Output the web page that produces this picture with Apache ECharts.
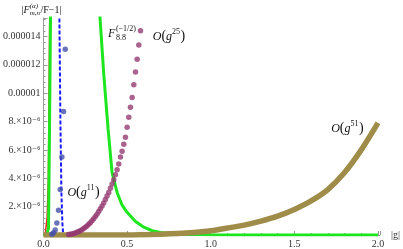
<!DOCTYPE html>
<html><head><meta charset="utf-8">
<script src="https://cdn.jsdelivr.net/npm/echarts@6/dist/echarts.min.js"></script>
<style>html,body{margin:0;padding:0;background:#fff}#c{width:403px;height:249px}</style>
</head><body><div id="c"></div>
<script>
// ---- data (y values in units of 1e-6) ----
const xTickLabels = ['0.0', '0.5', '1.0', '1.5', '2.0'];
const yTickLabels = ['', '2.×10⁻⁶', '4.×10⁻⁶', '6.×10⁻⁶', '8.×10⁻⁶', '0.00001', '0.000012', '0.000014'];

// F^(-1/2)_{8.8} (green)
const greenG = [0, 0.02, 0.026, 0.030, 0.036, 0.042, 0.05, 0.32, 0.338, 0.36, 0.386, 0.41, 0.44, 0.47, 0.50, 0.55, 0.60, 0.65, 0.70, 0.80, 0.90, 1.0, 1.2, 1.5, 2.0];
const greenV = [0, 0, 0.1, 0.5, 7.5, 15.3, 40, 40, 15.3, 11.4, 7.5, 4.4, 3.0, 2.1, 1.6, 0.95, 0.55, 0.3, 0.17, 0.07, 0.03, 0.01, 0, 0, 0];

// red curve (mostly hidden behind the green one)
const redG = [0.004, 0.012, 0.022, 0.029, 0.037, 0.045];
const redV = [0, 0.2, 1.3, 4, 15.3, 40];

// blue dashed curve
const blueDashG = [0.09, 0.095, 0.101, 0.107, 0.113, 0.118];
const blueDashV = [25, 15.3, 8.1, 3.0, 0.8, 0];

// O(g^11) blue dots
const blueDotG = [0.05, 0.06, 0.07, 0.08, 0.09, 0.10, 0.11, 0.12, 0.13];
const blueDotV = [0.05, 0.15, 0.35, 0.84, 1.75, 3.2, 5.5, 8.7, 13.1];

// O(g^25) purple dots
const purpleG = [0.15, 0.16, 0.17, 0.18, 0.19, 0.20, 0.21, 0.22, 0.23, 0.24, 0.25, 0.26, 0.27, 0.28, 0.29, 0.30, 0.31, 0.32, 0.33, 0.34, 0.35, 0.36, 0.37, 0.38, 0.39, 0.40, 0.41, 0.42, 0.43, 0.44, 0.45, 0.46, 0.47, 0.48, 0.49, 0.50, 0.51, 0.52, 0.53, 0.54, 0.55, 0.56, 0.57, 0.58];
const purpleV = [0.03, 0.05, 0.07, 0.1, 0.14, 0.19, 0.24, 0.3, 0.37, 0.45, 0.54, 0.64, 0.75, 0.87, 1.0, 1.15, 1.3, 1.47, 1.65, 1.85, 2.05, 2.25, 2.5, 2.75, 3.0, 3.3, 3.6, 3.9, 4.25, 4.6, 5.0, 5.5, 5.9, 6.4, 6.9, 7.6, 8.3, 9.0, 9.7, 10.6, 11.5, 12.4, 13.4, 14.4];

// O(g^51) olive curve
const oliveG = [0, 0.5, 0.6, 0.7, 0.8, 0.9, 1.0, 1.1, 1.2, 1.3, 1.4, 1.5, 1.6, 1.7, 1.8, 1.9, 2.0];
const oliveV = [0, 0, 0.02, 0.05, 0.1, 0.18, 0.3, 0.49, 0.7, 0.98, 1.33, 1.8, 2.4, 3.2, 4.4, 6.0, 7.9];

(function () {
const zip = (a, b) => a.map((v, i) => [v, b[i]]);
const SERIF = '"Liberation Serif", "DejaVu Serif", serif';

const chart = echarts.init(document.getElementById('c'), null, {renderer: 'canvas'});
chart.setOption({
  animation: false,
  backgroundColor: '#fff',
  grid: {left: 43, right: 21, top: 18, bottom: 13, containLabel: false},
  xAxis: {
    type: 'value', min: 0, max: 2.012, interval: 0.5,
    name: '|g|', nameLocation: 'end', nameGap: 11,
    nameTextStyle: {fontFamily: SERIF, fontSize: 10, color: '#333', verticalAlign: 'middle', padding: [0, 0, 0, 0]},
    axisLine: {onZero: false, lineStyle: {color: '#999', width: 1}},
    axisTick: {show: true, inside: true, length: 4, lineStyle: {color: '#999'}},
    minorTick: {show: true, splitNumber: 5, length: 2, lineStyle: {color: '#999'}},
    splitLine: {show: false},
    axisLabel: {fontFamily: SERIF, fontSize: 10, color: '#333', margin: 4,
      showMaxLabel: true,
      formatter: v => { const i = Math.round(v / 0.5); return Math.abs(v - i * 0.5) < 1e-9 ? (xTickLabels[i] || '') : ''; }}
  },
  yAxis: {
    type: 'value', min: 0, max: 15.3, interval: 2,
    axisLine: {show: true, onZero: false, lineStyle: {color: '#999', width: 1}},
    axisTick: {show: true, inside: true, length: 4, lineStyle: {color: '#999'}},
    minorTick: {show: true, splitNumber: 5, length: 2, lineStyle: {color: '#999'}},
    splitLine: {show: false},
    axisLabel: {fontFamily: SERIF, fontSize: 10, color: '#333', margin: 3,
      formatter: v => yTickLabels[Math.round(v / 2)] || ''}
  },
  series: [
    {type: 'line', data: zip(redG, redV), showSymbol: false, clip: true,
     lineStyle: {color: '#e8281e', width: 1.5}, z: 1},
    {type: 'line', data: zip(greenG, greenV), showSymbol: false, clip: true,
     lineStyle: {color: '#1ee61e', width: 3}, z: 2},
    {type: 'line', data: zip(blueDashG, blueDashV), showSymbol: false, clip: true,
     lineStyle: {color: '#1a1aff', width: 2, type: [4, 2]}, z: 3},
    {type: 'line', data: zip(oliveG, oliveV), showSymbol: false, clip: true, smooth: 0.3,
     lineStyle: {color: '#9e8c48', width: 5.5}, z: 4},
    {type: 'scatter', data: zip(purpleG, purpleV), symbol: 'circle', symbolSize: 5.5, clip: true,
     itemStyle: {color: '#953b72'}, z: 5},
    {type: 'scatter', data: zip(blueDotG, blueDotV), symbol: 'circle', symbolSize: 5.5, clip: true,
     itemStyle: {color: '#4450a8'}, z: 6}
  ]
});

// ---- math-style text labels ----
const ctx = document.createElement('canvas').getContext('2d');
function fontStr(size, italic) { return (italic ? 'italic ' : '') + size + 'px ' + SERIF; }
function measure(t, size, italic) { ctx.font = fontStr(size, italic); return ctx.measureText(t).width; }
function txt(x, y, t, font) {
  return {type: 'text', x: x, y: y, silent: true, z: 100,
    style: {text: t, font: font, fill: '#111', textAlign: 'left', textVerticalAlign: 'middle', align: 'left', verticalAlign: 'middle'}};
}
function mathLabel(x, y, parts, size, align) {
  const small = Math.round(size * 0.7);
  const widths = parts.map(p => p.t !== undefined ? measure(p.t, p.s || size, p.i) + (p.pad || 0) :
    Math.max(p.sup ? measure(p.sup, small, p.si) : 0, p.sub ? measure(p.sub, small, p.bi) : 0) + 0.5);
  const total = widths.reduce((a, b) => a + b, 0);
  let cx = align === 'center' ? x - total / 2 : x;
  const els = [];
  parts.forEach((p, k) => {
    if (p.t !== undefined) {
      els.push(txt(cx, y + (p.dy || 0), p.t, fontStr(p.s || size, p.i)));
    } else {
      if (p.sup) els.push(txt(cx, y - size * 0.4, p.sup, fontStr(small, p.si)));
      if (p.sub) els.push(txt(cx, y + size * 0.33, p.sub, fontStr(small, p.bi)));
    }
    cx += widths[k];
  });
  return els;
}
const P = (g, v) => chart.convertToPixel({gridIndex: 0}, [g, v]);
const axTop = P(0, 15.3);
const fPos = P(0.386, 14.2), o25 = P(0.653, 14.0), o11 = P(0.143, 3.0), o51 = P(1.72, 7.5);
const bigO = (pow) => [{t: 'O', i: true}, {t: '(', s: 14}, {t: 'g', i: true}, {sup: pow}, {t: ')', s: 14}];
const graphic = [].concat(
  mathLabel(axTop[0] - 2, axTop[1] - 8, [{t: '|'}, {t: 'F', i: true}, {sup: '(α)', si: true, sub: 'm,n', bi: true}, {t: '/F−1|'}], 10, 'center'),
  mathLabel(fPos[0], fPos[1], [{t: 'F', i: true, pad: 0.5}, {sup: '(−1/2)', sub: '8.8'}], 12, 'left'),
  mathLabel(o25[0], o25[1], bigO('25'), 12, 'left'),
  mathLabel(o11[0], o11[1], bigO('11'), 12, 'left'),
  mathLabel(o51[0], o51[1], bigO('51'), 12, 'left')
);
chart.setOption({graphic: graphic});
})();
</script>
</body></html>
